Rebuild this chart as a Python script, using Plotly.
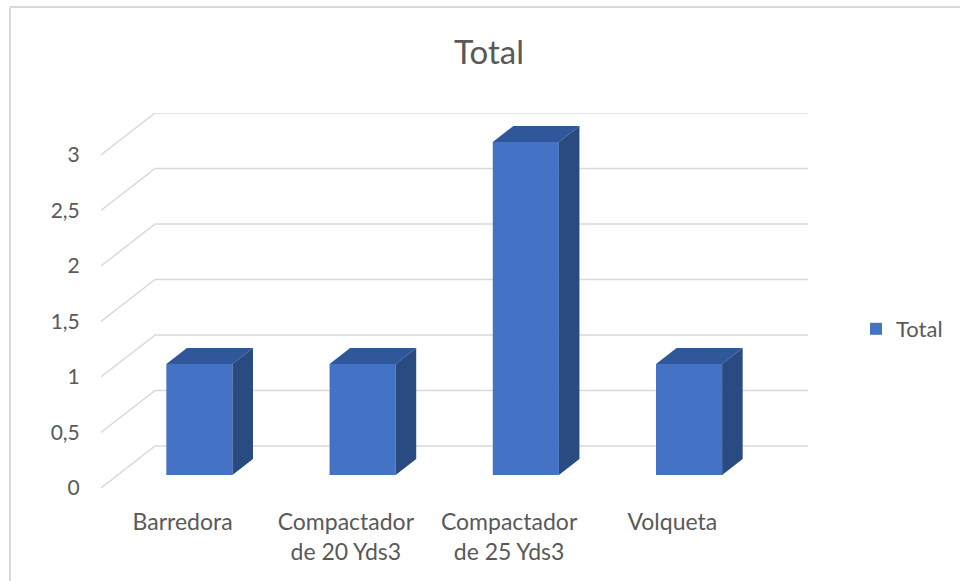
import plotly.graph_objects as go

# ---- data ----
categories = ["Barredora", "Compactador<br>de 20 Yds3", "Compactador<br>de 25 Yds3", "Volqueta"]
values = [1, 1, 3, 1]
series_name = "Total"
y_ticks = [0, 0.5, 1, 1.5, 2, 2.5, 3]
y_tick_labels = ["0", "0,5", "1", "1,5", "2", "2,5", "3"]

# ---- 3D look parameters (style) ----
DX = 0.3313   # depth offset in x units
DY = 0.3784   # depth offset in y units
F1, F2 = 0.31, 0.69   # bar depth fraction (front, back)
BAR_W = 0.405
FRONT = "#4472C4"
TOP = "#31579B"
SIDE = "#2A4A82"
GRID = "#D9D9D9"
FONT = "Lato"
TXT = "#595959"

xs = list(range(len(categories)))
x_min, x_max = -0.5, len(categories) - 0.5

fig = go.Figure()

# side wall + back wall gridlines (drawn below traces)
shapes = []
for v in y_ticks:
    shapes.append(dict(type="path", xref="x", yref="y", layer="below",
                       path=f"M{x_min},{v} L{x_min + DX},{v + DY} L{x_max + DX},{v + DY}",
                       line=dict(color=GRID, width=1.5)))

# bar front faces
base = F1 * DY
xf = [i + F1 * DX for i in xs]
fig.add_trace(go.Bar(x=xf, y=values, base=base, width=BAR_W, name=series_name,
                     marker=dict(color=FRONT, line=dict(width=0)), hoverinfo="skip"))

# top and side faces
ddx = (F2 - F1) * DX
ddy = (F2 - F1) * DY
tx, ty, sx, sy = [], [], [], []
for x, v in zip(xf, values):
    xl, xr = x - BAR_W / 2, x + BAR_W / 2
    top = base + v
    tx += [xl, xr, xr + ddx, xl + ddx, xl, None]
    ty += [top, top, top + ddy, top + ddy, top, None]
    sx += [xr, xr + ddx, xr + ddx, xr, xr, None]
    sy += [base, base + ddy, top + ddy, top, base, None]
fig.add_trace(go.Scatter(x=tx, y=ty, fill="toself", fillcolor=TOP, mode="lines",
                         line=dict(width=0, color=TOP), hoverinfo="skip", showlegend=False))
fig.add_trace(go.Scatter(x=sx, y=sy, fill="toself", fillcolor=SIDE, mode="lines",
                         line=dict(width=0, color=SIDE), hoverinfo="skip", showlegend=False))

L, R, T, B = 101, 152, 113, 93
W, H = 960, 581
pw, ph = W - L - R, H - T - B

def px_x(p):
    return (p - L) / pw

def px_y(p):
    return (H - B - p) / ph

shapes += [
    dict(type="line", xref="paper", yref="paper", x0=px_x(10), x1=px_x(960),
         y0=px_y(7), y1=px_y(7), line=dict(color=GRID, width=2)),
    dict(type="line", xref="paper", yref="paper", x0=px_x(10), x1=px_x(10),
         y0=px_y(7), y1=px_y(581), line=dict(color=GRID, width=2)),
]

fig.update_layout(
    width=W, height=H,
    margin=dict(l=L, r=R, t=T, b=B, pad=0, autoexpand=False),
    paper_bgcolor="white", plot_bgcolor="white",
    separators=",.",
    font=dict(family=FONT, size=21, color=TXT),
    title=dict(text="Total", x=489 / W, xref="container", xanchor="center",
               y=1 - 52 / H, yref="container", yanchor="middle",
               font=dict(family=FONT, size=33, color=TXT)),
    xaxis=dict(range=[x_min, x_max + DX], tickvals=xs, ticktext=categories,
               showgrid=False, zeroline=False, showline=False,
               ticks="outside", ticklen=13, tickcolor="rgba(0,0,0,0)",
               tickfont=dict(family=FONT, size=23, color=TXT), fixedrange=True),
    yaxis=dict(range=[0, y_ticks[-1] + DY], tickvals=y_ticks, ticktext=y_tick_labels,
               showgrid=False, zeroline=False, showline=False,
               ticks="outside", ticklen=16, tickcolor="rgba(0,0,0,0)",
               tickfont=dict(family=FONT, size=21, color=TXT), fixedrange=True),
    showlegend=True,
    legend=dict(x=px_x(856), y=px_y(329), xanchor="left", yanchor="middle",
                font=dict(family=FONT, size=22, color=TXT), itemwidth=30,
                bgcolor="rgba(0,0,0,0)"),
    shapes=shapes,
)

fig.write_html("out.html", config={"displayModeBar": False},
               post_script="document.body.style.margin='0';")
